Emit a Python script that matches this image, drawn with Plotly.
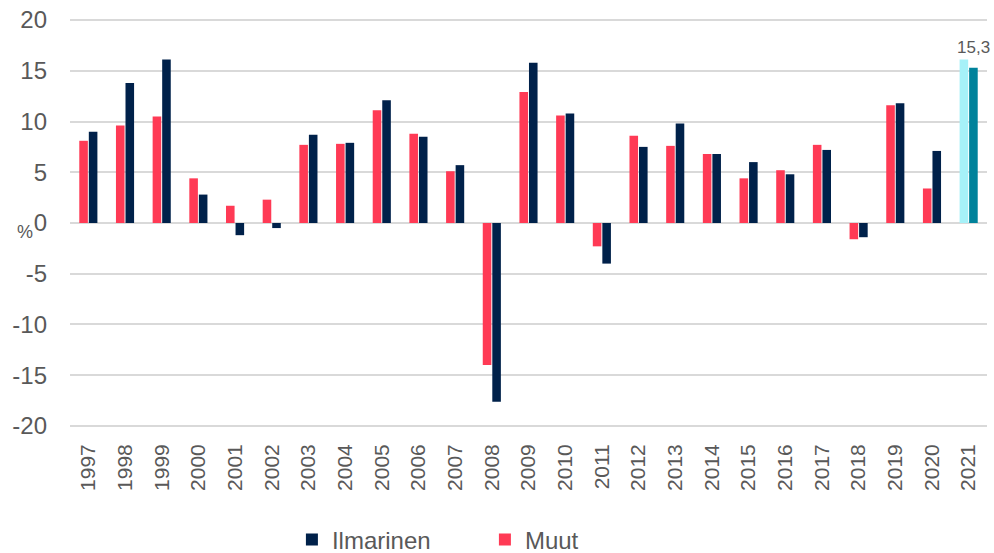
import plotly.graph_objects as go

years = [str(y) for y in range(1997, 2022)]
muut = [8.1, 9.6, 10.5, 4.4, 1.7, 2.3, 7.7, 7.8, 11.1, 8.8, 5.1, -14.0, 12.9, 10.6,
        -2.3, 8.6, 7.6, 6.8, 4.4, 5.2, 7.7, -1.6, 11.6, 3.4, 16.1]
ilmarinen = [9.0, 13.8, 16.1, 2.8, -1.2, -0.5, 8.7, 7.9, 12.1, 8.5, 5.7, -17.6, 15.8, 10.8,
             -4.0, 7.5, 9.8, 6.8, 6.0, 4.8, 7.2, -1.4, 11.8, 7.1, 15.3]
y_ticks = [-20, -15, -10, -5, 0, 5, 10, 15, 20]

MUUT_C, MUUT_LAST = "#FF3A55", "#A6F1F8"
ILM_C, ILM_LAST = "#00214A", "#00829B"
muut_colors = [MUUT_C] * (len(years) - 1) + [MUUT_LAST]
ilm_colors = [ILM_C] * (len(years) - 1) + [ILM_LAST]

FONT = "Liberation Sans, Arial, sans-serif"
GREY = "#595959"

fig = go.Figure()
fig.add_trace(go.Bar(x=years, y=muut, name="Muut", marker=dict(color=muut_colors, line=dict(width=0)),
                     legendrank=2))
fig.add_trace(go.Bar(x=years, y=ilmarinen, name="Ilmarinen", marker=dict(color=ilm_colors, line=dict(width=0)),
                     legendrank=1))

last_val = ilmarinen[-1]
fig.add_annotation(x=len(years) - 1, y=last_val, xref="x", yref="y", text=f"{last_val:.1f}".replace(".", ","),
                   showarrow=False, yanchor="bottom", xshift=5, yshift=9,
                   font=dict(family=FONT, size=17, color=GREY))
fig.add_annotation(x=-0.038, y=0, xref="paper", yref="y", text="%", showarrow=False,
                   xanchor="right", yshift=-9, font=dict(family=FONT, size=18, color=GREY))

fig.update_layout(
    width=994, height=553,
    margin=dict(l=70, r=7, t=19, b=126, autoexpand=False),
    paper_bgcolor="white", plot_bgcolor="white",
    barmode="group", bargap=0.48, bargroupgap=0.1,
    font=dict(family=FONT, color=GREY),
    showlegend=True,
    legend=dict(orientation="h", x=0.242, xanchor="left", y=-0.277, yanchor="middle",
                font=dict(family=FONT, size=24, color=GREY), entrywidth=148,
                itemclick=False),
    xaxis=dict(type="category", range=[-0.5, len(years) - 0.5], tickangle=-90,
               tickfont=dict(family=FONT, size=21, color=GREY),
               showgrid=False, showline=False, ticks="", ticklabelstandoff=12),
    yaxis=dict(range=[-20.1, 20.1], tickvals=y_ticks, ticktext=[str(v) for v in y_ticks],
               tickfont=dict(family=FONT, size=24, color=GREY),
               showgrid=True, gridcolor="#D9D9D9", gridwidth=1.5,
               zeroline=True, zerolinecolor="#D9D9D9", zerolinewidth=1.5,
               ticks="", ticklabelstandoff=22, showline=False),
)

fig.write_html("out.html", config={"displayModeBar": False},
               post_script="document.body.style.margin='0';document.body.style.overflow='hidden';")
